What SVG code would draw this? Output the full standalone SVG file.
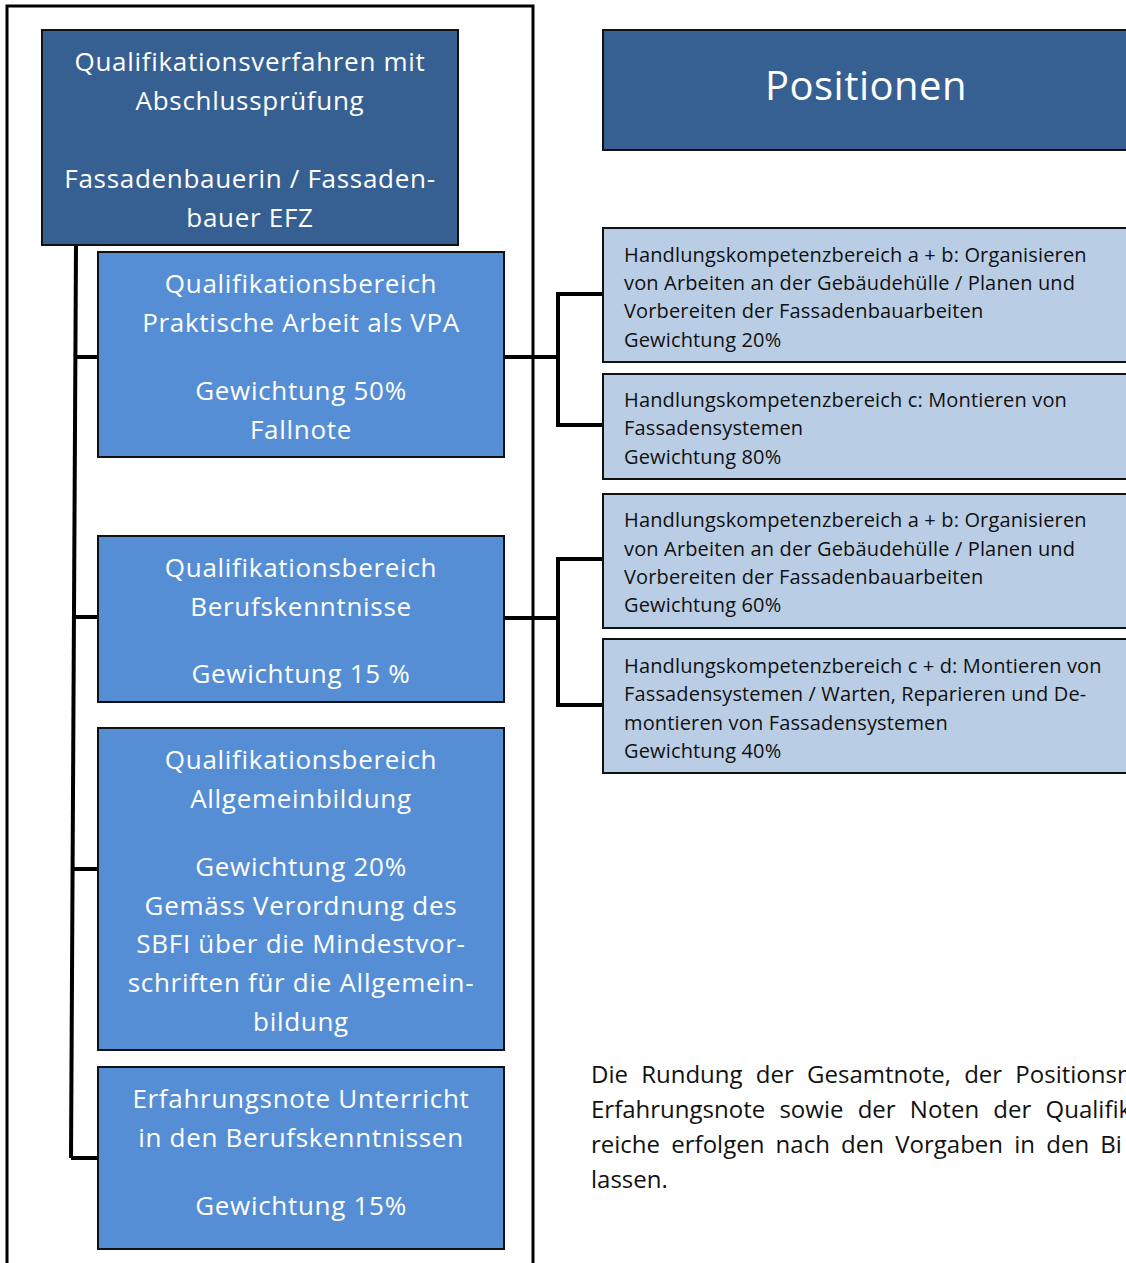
<svg xmlns="http://www.w3.org/2000/svg" width="1126" height="1263" viewBox="0 0 1126 1263">
<style>
.dark{fill:#376092;stroke:#111;stroke-width:2}
.mid{fill:#558ed5;stroke:#111;stroke-width:2}
.light{fill:#b9cde5;stroke:#111;stroke-width:2}
.wt{font-family:"Open Sans","Noto Sans",sans-serif;font-size:26px;letter-spacing:0.7px;fill:#fff;text-anchor:middle}
.bt{font-family:"Open Sans","Noto Sans",sans-serif;font-size:20px;letter-spacing:0.15px;fill:#111}
.note{font-family:"Open Sans","Noto Sans",sans-serif;font-size:24px;fill:#111}
.ln{fill:none;stroke:#000;stroke-width:4}
</style>
<rect width="1126" height="1263" fill="#fff"/>
<path d="M7,1263 V6 H533 V1263" fill="none" stroke="#000" stroke-width="3"/>
<g id="connectors">
<path class="ln" d="M76,245 L71,1158"/>
<path class="ln" d="M75.5,357 H98"/>
<path class="ln" d="M74,617 H98"/>
<path class="ln" d="M72.5,869 H98"/>
<path class="ln" d="M71,1158 H98"/>
<path class="ln" d="M504,357 H558"/>
<path class="ln" d="M603,294 H558 V425 H603"/>
<path class="ln" d="M504,618 H558"/>
<path class="ln" d="M603,559 H558 V705 H603"/>
</g>
<g id="n-root">
<rect class="dark" x="42" y="30" width="416" height="215"/>
<text class="wt" x="250" y="71">Qualifikationsverfahren mit</text>
<text class="wt" x="250" y="110">Abschlussprüfung</text>
<text class="wt" x="250" y="188">Fassadenbauerin / Fassaden-</text>
<text class="wt" x="250" y="227">bauer EFZ</text>
</g>
<g id="n-positionen">
<rect class="dark" x="603" y="30" width="530" height="120"/>
<text class="wt" x="866" y="100" style="font-size:40px;letter-spacing:0.5px">Positionen</text>
</g>
<g id="n-vpa">
<rect class="mid" x="98" y="252" width="406" height="205"/>
<text class="wt" x="301" y="293">Qualifikationsbereich</text>
<text class="wt" x="301" y="332">Praktische Arbeit als VPA</text>
<text class="wt" x="301" y="400">Gewichtung 50%</text>
<text class="wt" x="301" y="439">Fallnote</text>
</g>
<g id="n-bk">
<rect class="mid" x="98" y="536" width="406" height="166"/>
<text class="wt" x="301" y="577">Qualifikationsbereich</text>
<text class="wt" x="301" y="616">Berufskenntnisse</text>
<text class="wt" x="301" y="683">Gewichtung 15 %</text>
</g>
<g id="n-ab">
<rect class="mid" x="98" y="728" width="406" height="322"/>
<text class="wt" x="301" y="769">Qualifikationsbereich</text>
<text class="wt" x="301" y="808">Allgemeinbildung</text>
<text class="wt" x="301" y="876">Gewichtung 20%</text>
<text class="wt" x="301" y="915">Gemäss Verordnung des</text>
<text class="wt" x="301" y="953">SBFI über die Mindestvor-</text>
<text class="wt" x="301" y="992">schriften für die Allgemein-</text>
<text class="wt" x="301" y="1031">bildung</text>
</g>
<g id="n-en">
<rect class="mid" x="98" y="1067" width="406" height="182"/>
<text class="wt" x="301" y="1108">Erfahrungsnote Unterricht</text>
<text class="wt" x="301" y="1147">in den Berufskenntnissen</text>
<text class="wt" x="301" y="1215">Gewichtung 15%</text>
</g>
<g id="n-r1">
<rect class="light" x="603" y="228" width="530" height="134"/>
<text class="bt" x="624" y="262">Handlungskompetenzbereich a + b: Organisieren</text>
<text class="bt" x="624" y="290">von Arbeiten an der Gebäudehülle / Planen und</text>
<text class="bt" x="624" y="318">Vorbereiten der Fassadenbauarbeiten</text>
<text class="bt" x="624" y="347">Gewichtung 20%</text>
</g>
<g id="n-r2">
<rect class="light" x="603" y="374" width="530" height="105"/>
<text class="bt" x="624" y="407">Handlungskompetenzbereich c: Montieren von</text>
<text class="bt" x="624" y="435">Fassadensystemen</text>
<text class="bt" x="624" y="464">Gewichtung 80%</text>
</g>
<g id="n-r3">
<rect class="light" x="603" y="494" width="530" height="134"/>
<text class="bt" x="624" y="527">Handlungskompetenzbereich a + b: Organisieren</text>
<text class="bt" x="624" y="556">von Arbeiten an der Gebäudehülle / Planen und</text>
<text class="bt" x="624" y="584">Vorbereiten der Fassadenbauarbeiten</text>
<text class="bt" x="624" y="612">Gewichtung 60%</text>
</g>
<g id="n-r4">
<rect class="light" x="603" y="639" width="530" height="134"/>
<text class="bt" x="624" y="673">Handlungskompetenzbereich c + d: Montieren von</text>
<text class="bt" x="624" y="701">Fassadensystemen / Warten, Reparieren und De-</text>
<text class="bt" x="624" y="730">montieren von Fassadensystemen</text>
<text class="bt" x="624" y="758">Gewichtung 40%</text>
</g>
<g id="note">
<text class="note" x="591" y="1083" word-spacing="7">Die Rundung der Gesamtnote, der Positionsn</text>
<text class="note" x="591" y="1118" word-spacing="8">Erfahrungsnote sowie der Noten der Qualifik</text>
<text class="note" x="591" y="1153" word-spacing="5">reiche erfolgen nach den Vorgaben in den Bi</text>
<text class="note" x="591" y="1188">lassen.</text>
</g>
</svg>
